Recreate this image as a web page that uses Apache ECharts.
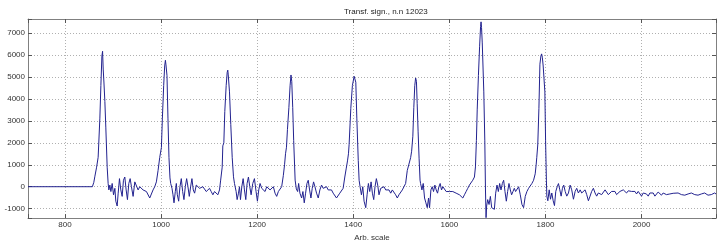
<!DOCTYPE html>
<html>
<head>
<meta charset="utf-8">
<script src="https://cdn.jsdelivr.net/npm/echarts@6/dist/echarts.min.js"></script>
<style>
html,body{margin:0;padding:0;background:#fff;}
#c{width:719px;height:247px;}
</style>
</head>
<body>
<div id="c"></div>
<script>
const titleText = 'Transf. sign., n.n 12023';
const xAxisName = 'Arb. scale';
const xTicks = [800, 1000, 1200, 1400, 1600, 1800, 2000];
const yTicks = [-1000, 0, 1000, 2000, 3000, 4000, 5000, 6000, 7000];

const sampleX = [
723,857,
860,862,865.8,869,872.6,874.7,876.8,878.2,879.5,881,883,885,887.8,889.8,
891.3,893.4,895.5,898.2,901,903.8,905.8,908.6,910.7,913.4,916.2,919,921.7,924.5,927.3,930,932.8,935.6,938.3,941.8,945.3,948.7,952.2,955.6,959.1,962.5,966,969.5,973,976.4,979.8,983.3,986.8,990.2,993.7,997.1,
1000.7,1002.7,1005.4,1007.5,1009,1010.2,1012.3,1014.3,1016.4,1018.5,
1020,1022.7,1024.8,1026.9,1029.6,1031.7,1033.8,1036.6,1039.3,1042.1,1044.9,1047.6,1050.4,1053.2,1055.9,1058.7,1061.5,1064.2,1067,1069.8,1073.2,1076.7,1080.1,1083.6,1087,1090.5,1094,1097.4,1100.9,1104.3,1107.8,1111.3,1114.7,1118.2,1121.6,1124,
1127.2,1128.5,1130.6,1132.6,1135.5,1137.6,1138.8,1139.7,1142.4,1145.1,1148,1150.7,1152.8,
1156.2,1158.3,1161.1,1163.2,1165.2,1168,1170.8,1173.5,1176.3,1179,1181.8,1184.6,1187.4,1190.8,1194.3,1197.7,1200.5,1203.3,1206,1209.5,1213,1216.4,1219.9,1223.3,1226.8,1230.2,1233.7,1237.2,1240.6,1244.1,1247.5,1251,1254.4,1257,1259,
1261,1263,1266,1268.5,1270.4,1272,1274,1276,1279,
1281.5,1284.2,1286.3,1289,1292.5,1295.2,1298,1300.8,1303.6,1306.3,1309.1,1311.9,1314.6,1317.4,1320.2,1323.6,1327.1,1330.5,1334,1337.4,1340.9,1344.4,1347.8,1351.3,1354.7,1358.2,1361.7,1365.1,1368.6,1372,1375.5,1378.9,1382.4,1385.2,1388,
1390,1391.4,1394.9,1398.2,1401.8,1405.3,1407.4,1410.4,1412.2,1414.2,
1417,1419.8,1422.5,1426,1428.8,1431.5,1434.3,1437.1,1439.8,1442.6,1445.3,1448.1,1450.9,1453.6,1457.1,1460.6,1464,1467.5,1470.9,1474.4,1477.9,1481.3,1484.8,1488.2,1491.7,1495.1,1498.6,1502.1,1505.5,1509,1512.4,1515.9,1519.4,1521.5,
1524,1526,1528,1529.8,1531.5,1533,1535,1537,1539,
1540.1,1542.9,1545.6,1548.4,1551.2,1554,1556.7,1558.8,1561.6,1564.3,1567.1,1569.9,1572.6,1575.4,1578.2,1580.9,1583.7,1586.5,1589.9,1593.4,1596.8,1600.3,1603.7,1607.2,1610.7,1614.1,1617.6,1621,1624.5,1628,1631.4,1634.9,1638.3,1641.8,1645.3,1648.7,1652.2,
1654.3,1656.3,1658,1660.5,1663,1665,1666,1667,1668.5,1671.7,1673.8,1675.2,1676.4,
1677.6,1679.8,1682.6,1685.4,1688.1,1690.9,1693.7,1696.4,1699.2,1702,1704.7,1707.5,1710.3,1713,1715.8,1718.6,1721.3,1724.1,1726.9,1729.6,1732.4,1735.2,1737.9,1740.7,1744.2,1747.6,1751.1,1754.5,1758,1761.4,1764.9,1768.4,1771.8,1775.3,1778.7,1780.8,1782,1784,
1786.4,1788.5,1790.5,1792,1793.5,1795.3,1798.8,1800.3,1802,
1802.9,1805,1807.8,1810.5,1813.2,1816.1,1818.8,1821.5,1824.5,1827.1,1829.9,1832.7,1835.4,1838.1,1841.1,1844.4,1847.9,1851.4,1854.7,1858.3,1861.8,1865.1,1868.6,1872.2,1875.5,1879,1882.5,1885.9,1889.4,1892.9,1896.2,1899.8,1903.3,1906.6,1910.1,1913.7,1917,1920.5,1924.1,1927.4,1930.9,1934.4,1937.7,1941.1,1944.7,1948,1951.6,1955.1,1958.4,1962,1965.5,1968.8,1972.4,1975.9,1979.2,1982.8,1986.3,1989.6,1993.1,1996.6,2000,2003.5,2007,2010.3,2013.9,2017.4,2020.7,2024.3,2027.8,2031.1,2034.6,2038.2,2041.5,2045,2048.6,2051.9,2055.4,2058.9,2062.2,2065.8,2069.3,2076.1,2083,2090,2096.9,2103.7,2110.8,2117.6,2124.5,2131.4,2138.4,2145.2,2152.1,2155
];

const sampleY = [
0,0,
200,450,890,1340,3125,4610,5950,6170,5360,4770,3880,2680,890,150,
-147,74,-220,147,-368,-74,-660,-880,-294,368,-147,-441,294,441,-147,-588,147,368,0,-441,220,294,-147,0,0,-147,-147,-220,-294,-515,-441,-147,0,220,735,1323,
1790,3125,4610,5500,5760,5550,5060,3125,1340,400,
147,-74,-368,-735,-220,147,-368,-660,0,368,-220,-588,0,368,0,-441,0,368,-147,-294,74,147,-74,-147,0,-74,-220,-147,-74,-220,-368,-220,-294,-368,-147,300,
890,1860,2000,3420,4610,5210,5310,5130,4320,2830,1340,450,147,
-220,-588,-294,0,-588,0,368,-147,-588,147,441,0,-368,147,368,-220,-660,-147,147,-74,0,-220,0,74,-147,-220,0,-294,-441,-220,-147,0,500,1000,1500,
1800,2600,3600,4600,5090,4800,3600,2100,300,
-100,-220,147,-294,-515,-220,-735,-294,147,294,-147,-515,-74,220,0,-294,-515,-147,74,-74,-147,0,-147,-220,-147,-294,-368,-515,-441,-294,-220,-74,441,810,1176,
1500,1935,3570,4610,5030,4760,3125,1200,294,0,
-368,0,-660,-955,-368,147,-220,220,-294,-588,0,368,74,-368,-74,-147,0,-147,-220,-147,-294,-147,-220,-368,-515,-368,-294,-147,-74,147,735,1030,1323,1617,
2300,3600,4600,4955,4800,3800,2500,1300,300,
147,-147,147,-515,-735,-955,-515,-955,-147,0,-220,74,-147,-294,0,147,-147,0,-74,-220,-147,-220,-147,-220,-220,-294,-220,-368,-441,-515,-368,-220,-74,74,0,294,441,
900,2100,3500,5060,6400,7300,7510,7250,6550,4320,2090,-150,-1410,
-880,-588,-810,-441,-955,-880,-1030,-294,74,-220,147,-147,147,294,-220,-660,-220,147,-147,-368,-220,-74,-220,-294,0,-368,-810,-955,-441,-220,-74,0,147,294,588,1030,1340,1900,
3570,5580,5950,6050,5900,5500,4320,2090,300,
-430,-640,-143,-570,-286,-640,-860,-215,0,143,-143,-430,-72,72,-215,-430,-286,72,-143,-570,-215,-72,-286,-143,-286,-360,-143,-360,-640,-430,-215,-72,-286,-430,-286,-215,-360,-286,-143,-215,-360,-286,-215,-286,-215,-360,-286,-215,-286,-143,-215,-286,-186,-143,-215,-286,-215,-330,-215,-286,-430,-286,-215,-330,-430,-286,-215,-286,-430,-360,-243,-330,-386,-286,-243,-360,-430,-330,-243,-300,-386,-286,-360,-386,-330,-286,-360,-386,-330,-286,-386,-360,-286,-330
];

const seriesData = sampleX.map((x, i) => [x, sampleY[i]]);

const frameColor = '#808080';
const labelStyle = { color: '#333', fontSize: 8, fontFamily: 'Liberation Sans, Arial, sans-serif' };
const gridLine = { show: true, lineStyle: { color: '#b0b0b0', type: [1, 2], width: 1 } };

const chart = echarts.init(document.getElementById('c'), null, { renderer: 'canvas' });
chart.setOption({
  animation: false,
  backgroundColor: '#ffffff',
  title: {
    text: titleText,
    left: 339, top: 3,
    textStyle: { color: '#222', fontSize: 8, fontWeight: 'normal', fontFamily: 'Liberation Sans, Arial, sans-serif' }
  },
  grid: { left: 28, right: 1, top: 19, bottom: 24, containLabel: false },
  xAxis: [{
    type: 'value', min: 723, max: 2155, minInterval: 200, maxInterval: 200, splitNumber: 7,
    position: 'bottom',
    name: xAxisName, nameLocation: 'middle', nameGap: 12,
    nameTextStyle: { color: '#333', fontSize: 8, fontFamily: 'Liberation Sans, Arial, sans-serif' },
    axisLine: { show: true, onZero: false, lineStyle: { color: frameColor, width: 1 } },
    axisTick: { show: true, inside: true, length: 4, lineStyle: { color: '#555' } },
    axisLabel: { ...labelStyle, margin: 3, formatter: v => xTicks.includes(v) ? String(v) : '' },
    splitLine: gridLine
  }, {
    type: 'value', min: 723, max: 2155, minInterval: 200, maxInterval: 200, splitNumber: 7,
    position: 'top',
    axisLine: { show: true, onZero: false, lineStyle: { color: frameColor, width: 1 } },
    axisTick: { show: true, inside: true, length: 4, lineStyle: { color: '#555' } },
    axisLabel: { show: false },
    splitLine: { show: false }
  }],
  yAxis: [{
    type: 'value', min: -1430, max: 7640, minInterval: 1000, maxInterval: 1000, splitNumber: 9,
    position: 'left',
    axisLine: { show: true, onZero: false, lineStyle: { color: frameColor, width: 1 } },
    axisTick: { show: true, inside: true, length: 4, lineStyle: { color: '#555' } },
    axisLabel: { ...labelStyle, margin: 3, formatter: v => yTicks.includes(v) ? String(v) : '' },
    splitLine: gridLine
  }, {
    type: 'value', min: -1430, max: 7640, minInterval: 1000, maxInterval: 1000, splitNumber: 9,
    position: 'right',
    axisLine: { show: true, onZero: false, lineStyle: { color: frameColor, width: 1 } },
    axisTick: { show: true, inside: true, length: 4, lineStyle: { color: '#555' } },
    axisLabel: { show: false },
    splitLine: { show: false }
  }],
  series: [{
    type: 'line',
    xAxisIndex: 0, yAxisIndex: 0,
    data: seriesData,
    showSymbol: false,
    symbol: 'none',
    lineStyle: { color: '#22228f', width: 1 },
    clip: true
  }]
});
</script>
</body>
</html>
